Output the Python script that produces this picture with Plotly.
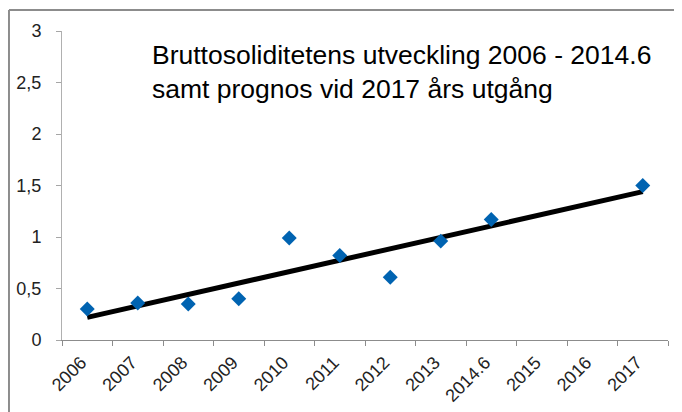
import plotly.graph_objects as go

categories = ["2006", "2007", "2008", "2009", "2010", "2011", "2012", "2013",
              "2014.6", "2015", "2016", "2017"]
soliditet = [0.30, 0.36, 0.35, 0.40, 0.99, 0.82, 0.61, 0.96, 1.17, None, None, 1.50]
trend_x = ["2006", "2017"]
trend_y = [0.22, 1.44]
y_ticks = [0, 0.5, 1, 1.5, 2, 2.5, 3]

FONT = "Liberation Sans, Arial, sans-serif"

fig = go.Figure()
fig.add_trace(go.Scatter(x=trend_x, y=trend_y, mode="lines",
                         line=dict(color="black", width=5), hoverinfo="skip"))
fig.add_trace(go.Scatter(x=categories, y=soliditet, mode="markers",
                         marker=dict(symbol="diamond", size=11.5, color="#0063B1")))

# page body has an 8px default margin; figure sized/margined to compensate
fig.update_layout(
    width=674, height=404,
    margin=dict(l=54, r=14, t=23, b=72, autoexpand=False),
    paper_bgcolor="white", plot_bgcolor="white",
    showlegend=False,
    separators=", ",
    font=dict(family=FONT, size=18, color="#222222"),
)
fig.update_xaxes(type="category", categoryorder="array", categoryarray=categories,
                 range=[-0.5, 11.5], tickson="boundaries", ticks="outside",
                 ticklen=5, tickcolor="#8c8c8c", showline=True, linecolor="#8c8c8c",
                 linewidth=1, showgrid=False, tickangle=-45, zeroline=False,
                 ticklabelshift=-6, ticklabelstandoff=4, automargin=False,
                 tickfont=dict(size=18, family=FONT, color="#222222"))
fig.update_yaxes(range=[0, 3], tickvals=y_ticks, tickformat=".1~f", ticks="outside",
                 ticklen=5, tickcolor="#a6a6a6", showline=True, linecolor="#b0b0b0",
                 linewidth=1, showgrid=False, zeroline=False, ticklabelstandoff=11,
                 automargin=False,
                 tickfont=dict(size=18, family=FONT, color="#222222"))

fig.add_annotation(text="Bruttosoliditetens utveckling 2006 - 2014.6<br>samt prognos vid 2017 års utgång",
                   xref="paper", yref="paper", x=0.145, y=0.978,
                   xanchor="left", yanchor="top", align="left", showarrow=False,
                   font=dict(size=26.5, color="black", family=FONT))

# outer chart frame (left and top edges visible)
fig.add_shape(type="line", xref="paper", yref="paper", x0=-0.0875, x1=-0.0875,
              y0=1.068, y1=-0.3, line=dict(color="#8c8c8c", width=2))
fig.add_shape(type="line", xref="paper", yref="paper", x0=-0.0875, x1=1.1,
              y0=1.068, y1=1.068, line=dict(color="#8c8c8c", width=2))

fig.write_html("out.html")
